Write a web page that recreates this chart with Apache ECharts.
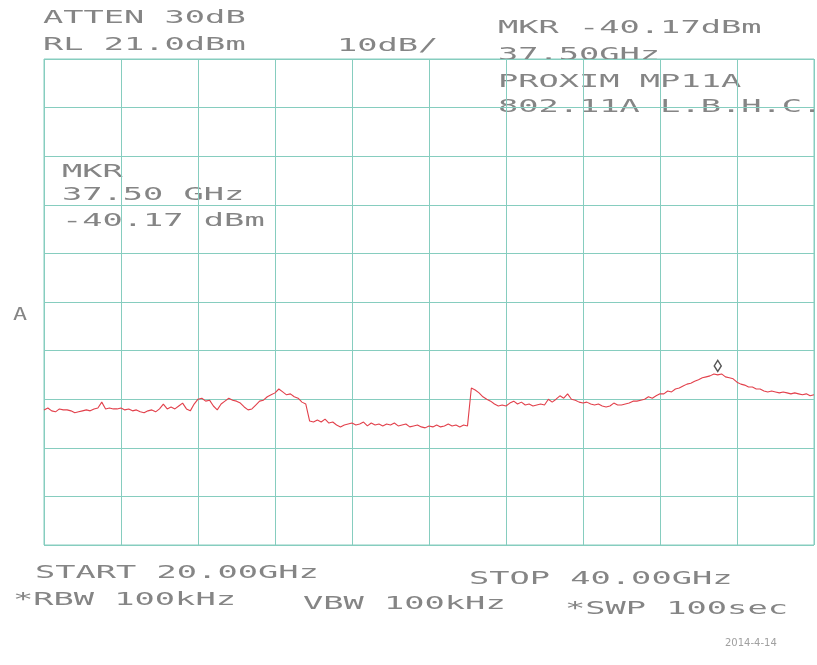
<!DOCTYPE html>
<html>
<head>
<meta charset="utf-8">
<script src="https://cdn.jsdelivr.net/npm/echarts@6/dist/echarts.min.js"></script>
<style>
html,body{margin:0;padding:0;background:#fff;}
#chart{width:817px;height:665px;}
</style>
</head>
<body>
<div id="chart"></div>
<script>
// ---- Instrument settings (from the plot annotations) ----
const START_GHZ = 20.0;
const STOP_GHZ = 40.0;
const STEP_GHZ = 0.1;          // sweep point spacing used when reading the trace
const REF_LEVEL_DBM = 21.0;    // RL 21.0dBm (top graticule line)
const DB_PER_DIV = 10;         // 10dB/
const DIVISIONS = 10;
const MARKER_GHZ = 37.5;

// ---- Trace levels (dBm), one per sweep point from 20.0 to 40.0 GHz ----
const levelDbm = [
  -51.2, -50.8, -51.4, -51.6, -51.0, -51.2, -51.2, -51.4, -51.8, -51.6,
  -51.4, -51.2, -51.4, -51.0, -50.8, -49.6, -51.0, -50.8, -51.0, -51.0,
  -50.8, -51.2, -51.0, -51.4, -51.2, -51.6, -51.8, -51.4, -51.2, -51.6,
  -51.0, -50.0, -51.0, -50.6, -51.0, -50.4, -49.8, -51.0, -51.4, -50.0,
  -49.0, -48.8, -49.4, -49.2, -50.4, -51.2, -50.0, -49.4, -48.8, -49.2,
  -49.4, -49.8, -50.6, -51.2, -51.0, -50.2, -49.4, -49.2, -48.5, -48.1,
  -47.7, -46.9, -47.5, -48.1, -47.9, -48.5, -48.8, -49.6, -50.0, -53.5,
  -53.7, -53.3, -53.7, -53.1, -53.9, -53.7, -54.3, -54.7, -54.3, -54.1,
  -53.9, -54.3, -54.1, -53.7, -54.5, -53.9, -54.3, -54.1, -54.5, -54.1,
  -54.3, -53.9, -54.5, -54.3, -54.1, -54.7, -54.5, -54.3, -54.7, -54.9,
  -54.5, -54.7, -54.3, -54.7, -54.5, -54.1, -54.5, -54.3, -54.7, -54.3,
  -54.5, -46.7, -47.1, -47.7, -48.5, -49.0, -49.4, -50.0, -50.4, -50.2,
  -50.4, -49.8, -49.4, -50.0, -49.6, -50.2, -50.0, -50.4, -50.2, -50.0,
  -50.2, -49.0, -49.6, -49.0, -48.3, -48.8, -47.9, -49.0, -49.2, -49.6,
  -49.8, -49.6, -50.0, -50.2, -50.0, -50.4, -50.6, -50.4, -49.8, -50.2,
  -50.2, -50.0, -49.8, -49.4, -49.4, -49.2, -49.0, -48.5, -48.8, -48.3,
  -47.9, -47.9, -47.3, -47.5, -46.9, -46.7, -46.3, -45.9, -45.7, -45.3,
  -45.0, -44.6, -44.4, -44.2, -43.8, -44.0, -43.8, -44.4, -44.6, -44.8,
  -45.5, -45.9, -46.1, -46.5, -46.5, -46.9, -46.9, -47.3, -47.5, -47.3,
  -47.5, -47.7, -47.5, -47.7, -47.9, -47.7, -47.9, -48.1, -47.9, -48.3,
  -48.1
];

// ---- Annotation texts ----
const headerLeft = ["ATTEN 30dB", "RL 21.0dBm"];
const scaleText = "10dB/";
const headerRight = ["MKR -40.17dBm", "37.50GHz", "PROXIM MP11A", "802.11A L.B.H.C."];
const markerBlock = ["MKR", "37.50 GHz", "-40.17 dBm"];
const traceLabel = "A";
const footer = ["START 20.00GHz", "STOP 40.00GHz", "*RBW 100kHz", "VBW 100kHz", "*SWP 100sec"];
const signature = "2014-4-14";

// sweep frequencies for each reading
const freqGHz = levelDbm.map((_, i) => +(START_GHZ + i * STEP_GHZ).toFixed(2));
const traceData = freqGHz.map((f, i) => [f, levelDbm[i]]);
const mkIdx = freqGHz.findIndex(f => Math.abs(f - MARKER_GHZ) < 1e-6);

const GRID_COLOR = '#86cdbf';
const TEXT_COLOR = '#858585';
const FONT = '18px "DejaVu Sans Mono"';
const SX = 1.87;

function txt(text, x, y, opts) {
  opts = opts || {};
  return {
    type: 'text',
    x: x, y: y,
    scaleX: opts.sx || SX,
    silent: true,
    style: {
      text: text,
      x: 0, y: 0,
      font: opts.font || FONT,
      fill: opts.fill || TEXT_COLOR,
      textAlign: 'left', textVerticalAlign: 'top',
      align: 'left', verticalAlign: 'top'
    }
  };
}

const graphics = [
  txt(headerLeft[0], 43, 9),
  txt(headerLeft[1], 43, 36),
  txt(scaleText, 337, 37),
  txt(headerRight[0], 498, 19),
  txt(headerRight[1], 498, 46),
  txt(headerRight[2], 498, 73),
  txt(headerRight[3], 498, 98),
  txt(markerBlock[0], 62, 163),
  txt(markerBlock[1], 62, 186),
  txt(markerBlock[2], 62, 212),
  txt(traceLabel, 13, 306, {sx: 1.3}),
  txt(footer[0], 35, 564),
  txt(footer[1], 469, 570),
  txt(footer[2], 13, 591),
  txt(footer[3], 303, 595),
  txt(footer[4], 565, 600),
  txt(signature, 725, 638, {font: '10px "DejaVu Sans"', sx: 1.0, fill: '#a0a0a0'})
];

const chart = echarts.init(document.getElementById('chart'), null, {renderer: 'canvas'});
chart.setOption({
  animation: false,
  backgroundColor: '#ffffff',
  grid: {
    left: 44, top: 59, right: 3, bottom: 120,
    show: true, borderColor: GRID_COLOR, borderWidth: 1, backgroundColor: 'transparent'
  },
  xAxis: {
    type: 'value', min: START_GHZ, max: STOP_GHZ,
    interval: (STOP_GHZ - START_GHZ) / DIVISIONS,
    axisLabel: {show: false}, axisTick: {show: false},
    axisLine: {show: false},
    splitLine: {show: true, lineStyle: {color: GRID_COLOR, width: 1}}
  },
  yAxis: {
    type: 'value',
    min: REF_LEVEL_DBM - DB_PER_DIV * DIVISIONS, max: REF_LEVEL_DBM,
    interval: DB_PER_DIV,
    axisLabel: {show: false}, axisTick: {show: false},
    axisLine: {show: false},
    splitLine: {show: true, lineStyle: {color: GRID_COLOR, width: 1}}
  },
  series: [{
    type: 'line',
    data: traceData,
    showSymbol: false,
    symbol: 'none',
    lineStyle: {color: '#e2404b', width: 1.1},
    itemStyle: {color: '#e2404b'},
    markPoint: {
      symbol: 'diamond',
      symbolSize: [7, 11],
      symbolOffset: [0, -9],
      itemStyle: {color: '#ffffff', borderColor: '#555555', borderWidth: 1.5},
      label: {show: false},
      data: [{coord: [freqGHz[mkIdx], levelDbm[mkIdx]]}]
    }
  }],
  graphic: graphics
});
</script>
</body>
</html>
